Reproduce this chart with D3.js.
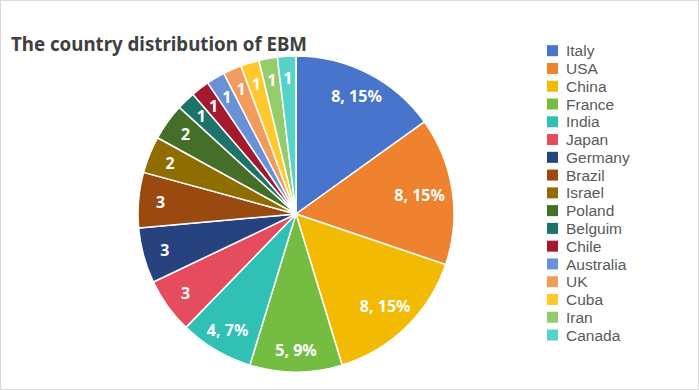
<!DOCTYPE html>
<html><head><meta charset="utf-8">
<script src="https://cdn.jsdelivr.net/npm/d3@7"></script>
<style>body{margin:0;background:#fff}svg{display:block}</style>
</head><body>
<script>
const categories = ["Italy","USA","China","France","India","Japan","Germany","Brazil","Israel","Poland","Belguim","Chile","Australia","UK","Cuba","Iran","Canada"];
const values = [8,8,8,5,4,3,3,3,2,2,1,1,1,1,1,1,1];
const percentLabels = ["15%","15%","15%","9%","7%",null,null,null,null,null,null,null,null,null,null,null,null];
const colors = ["#4874CB","#EE822F","#F2BA02","#75BD42","#30C0B4","#E54C5E","#26427F","#9A4A0F","#8F6D00","#456E28","#1B7369","#A11A2E","#6A90D8","#F19B5F","#FFC92D","#94CB6B","#55D3C8"];
const title = "The country distribution of EBM";

const W = 699, H = 390;
const svg = d3.select("body").append("svg").attr("width", W).attr("height", H);
svg.append("rect").attr("x",0.5).attr("y",0.5).attr("width",W-1).attr("height",H-1)
  .attr("fill","#fff").attr("stroke","#d9d9d9");

svg.append("text").attr("x",11).attr("y",51).text(title)
  .attr("font-family","Noto Sans, sans-serif").attr("font-weight","bold")
  .attr("font-size",20).attr("fill","#404040")
  .attr("textLength",296).attr("lengthAdjust","spacingAndGlyphs");

const cx = 296, cy = 214, R = 158;
const pie = d3.pie().sort(null).value(d => d)(values);
const arc = d3.arc().innerRadius(0).outerRadius(R);
const g = svg.append("g").attr("transform",`translate(${cx},${cy})`);
g.selectAll("path").data(pie).join("path")
  .attr("d", arc).attr("fill",(d,i)=>colors[i])
  .attr("stroke","#fff").attr("stroke-width",1.5).attr("stroke-linejoin","round");

const labels = g.selectAll("text.lbl").data(pie).join("text").attr("class","lbl")
  .attr("text-anchor","middle").attr("dy","0.36em")
  .attr("font-family","Noto Sans, sans-serif").attr("font-weight","bold")
  .attr("font-size",16).attr("fill","#fff")
  .text((d,i) => percentLabels[i] ? `${values[i]}, ${percentLabels[i]}` : `${values[i]}`);
// best-fit: push label outward but keep its box inside the circle
labels.each(function(d){
  const w = this.getComputedTextLength()/2, h = 6;
  const a = (d.startAngle + d.endAngle)/2;
  const sx = Math.sin(a), sy = -Math.cos(a);
  let r = 136;
  const far = rr => {
    const x = rr*sx, y = rr*sy;
    return Math.hypot(Math.abs(x)+w, Math.abs(y)+h);
  };
  while (r > 60 && far(r) > 151) r -= 0.5;
  d3.select(this).attr("transform", `translate(${r*sx},${r*sy})`);
});

const leg = svg.append("g");
const y0 = 50.7, step = 17.77;
categories.forEach((n,i) => {
  const y = y0 + i*step;
  leg.append("rect").attr("x",547).attr("y",y-5.5).attr("width",11).attr("height",11).attr("fill",colors[i]);
  leg.append("text").attr("x",566).attr("y",y).attr("dy","0.36em").text(n)
    .attr("font-family","Liberation Sans, Arial, sans-serif").attr("font-size",15.5).attr("fill","#595959");
});
</script>
</body></html>
